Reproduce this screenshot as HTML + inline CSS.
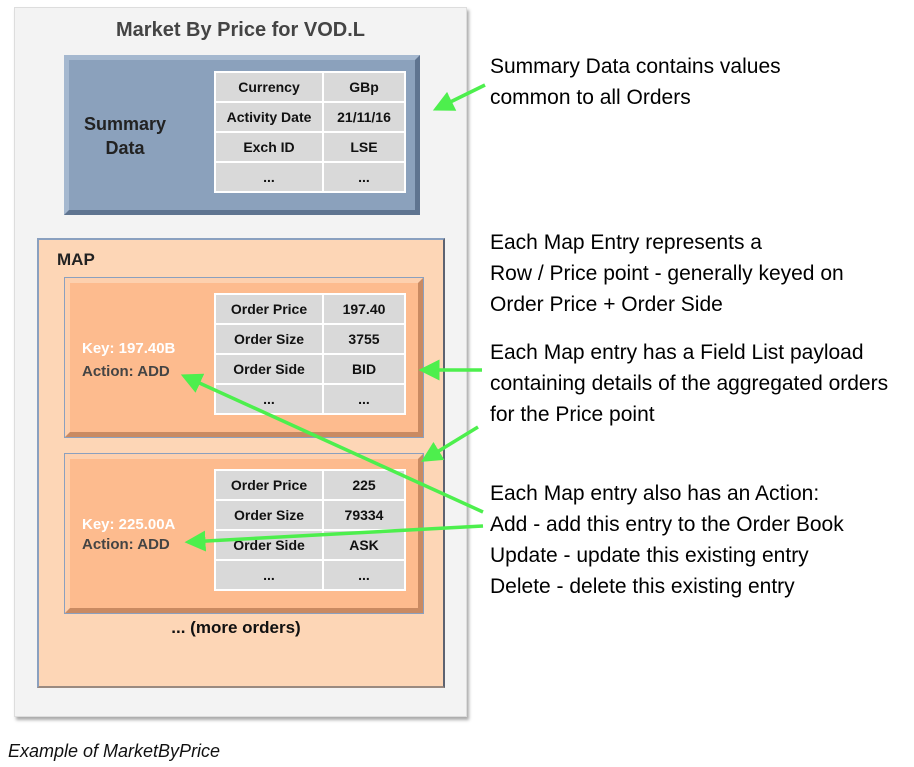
<!DOCTYPE html>
<html><head><meta charset="utf-8"><style>
body{margin:0;width:914px;height:767px;background:#fff;position:relative;overflow:hidden;font-family:"Liberation Sans",sans-serif}
.a{position:absolute;box-sizing:border-box}
.outer{left:14px;top:7px;width:453px;height:710px;background:#f3f3f3;border:1px solid #ddd;box-shadow:2px 3px 3px #aaa}
.title{left:14px;width:453px;top:19px;text-align:center;font-weight:bold;font-size:20px;color:#444}
.sum{left:64px;top:55px;width:356px;height:160px;background:#8ba1bc;border:5px solid #a5b8cf;border-right-color:#5f7490;border-bottom-color:#5f7490}
.map{left:37px;top:238px;width:408px;height:450px;background:#fdd6b6;border:2px solid #8aa0bf;border-right-color:#5d6270;border-bottom-color:#9a8a80}
.ent{left:65px;width:358px;height:159px;background:#fdbb8e;border:5px solid #fdd0ae;border-right-color:#c98a62;border-bottom-color:#c98a62;outline:1px solid #8aa0bf}
table{position:absolute;border-collapse:collapse;width:192px;background:#d9d9d9;border:2px solid #fff}
td{border:2px solid #fff;height:28px;text-align:center;font-weight:bold;font-size:14px;color:#111;padding:0}
.lbl{font-weight:bold;font-size:15px}
.rt{left:490px;font-size:21px;color:#000;line-height:31px}
</style></head><body>
<div class="a outer"></div>
<div class="a title">Market By Price for VOD.L</div>
<div class="a sum"></div>
<div class="a" style="left:78px;top:112px;width:94px;text-align:center;font-weight:bold;font-size:18px;color:#222;line-height:24px">Summary<br>Data</div>
<table style="left:214px;top:71px"><tr><td style="width:106px">Currency</td><td>GBp</td></tr><tr><td>Activity Date</td><td>21/11/16</td></tr><tr><td>Exch ID</td><td>LSE</td></tr><tr><td>...</td><td>...</td></tr></table>
<div class="a map"></div>
<div class="a" style="left:57px;top:250px;font-weight:bold;font-size:17px;color:#222">MAP</div>
<div class="a ent" style="top:278px"></div>
<div class="a ent" style="top:454px"></div>
<div class="a lbl" style="left:82px;top:340px;color:#fff">Key: 197.40B</div>
<div class="a lbl" style="left:82px;top:363px;color:#444">Action: ADD</div>
<div class="a lbl" style="left:82px;top:516px;color:#fff">Key: 225.00A</div>
<div class="a lbl" style="left:82px;top:536px;color:#444">Action: ADD</div>
<table style="left:214px;top:293px"><tr><td style="width:106px">Order Price</td><td>197.40</td></tr><tr><td>Order Size</td><td>3755</td></tr><tr><td>Order Side</td><td>BID</td></tr><tr><td>...</td><td>...</td></tr></table>
<table style="left:214px;top:469px"><tr><td style="width:106px">Order Price</td><td>225</td></tr><tr><td>Order Size</td><td>79334</td></tr><tr><td>Order Side</td><td>ASK</td></tr><tr><td>...</td><td>...</td></tr></table>
<div class="a" style="left:37px;width:398px;top:618px;text-align:center;font-weight:bold;font-size:17px;color:#111">... (more orders)</div>
<div class="a rt" style="top:51px">Summary Data contains values<br>common to all Orders</div>
<div class="a rt" style="top:227px">Each Map Entry represents a<br>Row / Price point - generally keyed on<br>Order Price + Order Side</div>
<div class="a rt" style="top:337px">Each Map entry has a Field List payload<br>containing details of the aggregated orders<br>for the Price point</div>
<div class="a rt" style="top:478px">Each Map entry also has an Action:<br>Add - add this entry to the Order Book<br>Update - update this existing entry<br>Delete - delete this existing entry</div>
<div class="a" style="left:8px;top:741px;font-style:italic;font-size:18px;color:#111">Example of MarketByPrice</div>
<svg class="a" style="left:0;top:0" width="914" height="767">
<defs><marker id="m" markerWidth="6" markerHeight="6" refX="5" refY="3" orient="auto" markerUnits="strokeWidth"><path d="M0,0L6,3L0,6z" fill="#4def4d"/></marker></defs>
<g stroke="#4def4d" stroke-width="3.5" fill="none" marker-end="url(#m)">
<line x1="485" y1="85" x2="436" y2="109"/>
<line x1="482" y1="370" x2="422" y2="370"/>
<line x1="478" y1="427" x2="424" y2="460"/>
<line x1="483" y1="512" x2="184" y2="376"/>
<line x1="483" y1="526" x2="188" y2="542"/>
</g></svg>
</body></html>
